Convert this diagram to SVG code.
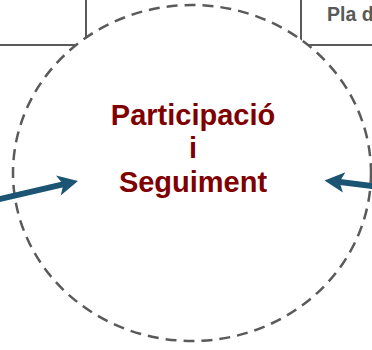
<svg xmlns="http://www.w3.org/2000/svg" width="372" height="350" viewBox="0 0 372 350">
  <style>
    .box { fill: #ffffff; stroke: #5a5a5a; stroke-width: 2; }
    .hub { fill: #ffffff; stroke: #5a5a5a; stroke-width: 2.5; stroke-dasharray: 11 7; }
    .hub-label { font-family: "Liberation Sans", Arial, sans-serif; font-weight: bold; font-size: 29px; fill: #7f0000; text-anchor: middle; }
    .box-label { font-family: "Liberation Sans", Arial, sans-serif; font-weight: bold; font-size: 19.5px; fill: #595959; }
    .shaft { stroke: #1b5573; stroke-width: 6; fill: none; }
    .head { fill: #1b5573; }
  </style>

  <!-- neighbouring boxes, partly off the canvas -->
  <g id="box-left">
    <rect class="box" x="-10" y="-10" width="96" height="55"/>
  </g>
  <g id="box-right">
    <rect class="box" x="301" y="-10" width="100" height="55"/>
    <text class="box-label" x="327" y="21">Pla d</text>
  </g>

  <!-- central dashed node -->
  <g id="node-participacio">
    <ellipse class="hub" cx="192" cy="173" rx="179" ry="168"/>
    <text class="hub-label" x="193" y="125">Participació</text>
    <text class="hub-label" x="193" y="158">i</text>
    <text class="hub-label" x="193" y="192">Seguiment</text>
  </g>

  <!-- connectors pointing into the node -->
  <g id="connectors">
    <g id="arrow-left">
      <line class="shaft" x1="-2" y1="199.5" x2="64" y2="184.2"/>
      <polygon class="head" points="78,181 56,175.6 63.4,184.4 60.7,195.4"/>
    </g>
    <g id="arrow-right">
      <line class="shaft" x1="374" y1="186.2" x2="338" y2="181.8"/>
      <polygon class="head" points="324.5,180.5 345.4,172.2 339.5,182 342.9,192.6"/>
    </g>
  </g>
</svg>
